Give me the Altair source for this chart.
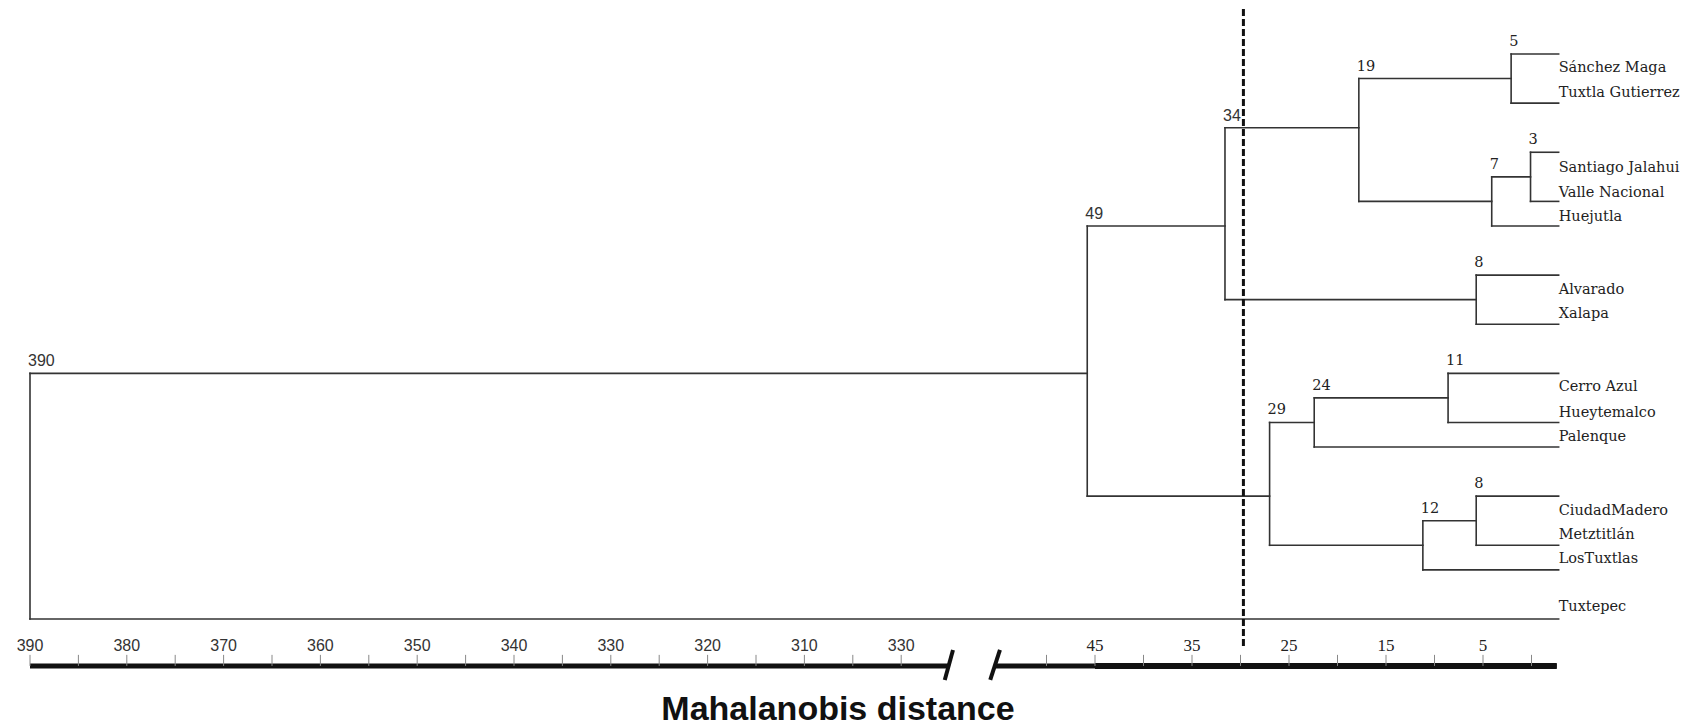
import altair as alt
import pandas as pd

# ---------------- data ----------------
# internal nodes of the dendrogram (distance = position on the drawn axis)
node_ids = ["n390", "n49", "n34", "n19", "n5", "n7", "n3", "n8a", "n29", "n24", "n11", "n12", "n8b"]
node_labels = ["390", "49", "34", "19", "5", "7", "3", "8", "29", "24", "11", "12", "8"]
node_dist = [390, 45.8, 31.6, 17.8, 2.1, 4.1, 0.1, 5.7, 27.0, 22.4, 8.6, 11.2, 5.7]
node_parent = [None, "n390", "n49", "n34", "n19", "n19", "n7", "n34", "n49", "n29", "n24", "n29", "n12"]
node_link_row = [None, 13, 7, 3, 1, 6, 5, 10, 18, 15, 14, 20, 19]

# leaves
leaf_names = ["Sánchez Maga", "Tuxtla Gutierrez", "Santiago Jalahui", "Valle Nacional", "Huejutla",
              "Alvarado", "Xalapa", "Cerro Azul", "Hueytemalco", "Palenque",
              "CiudadMadero", "Metztitlán", "LosTuxtlas", "Tuxtepec"]
leaf_parent = ["n5", "n5", "n3", "n3", "n7", "n8a", "n8a", "n11", "n11", "n24", "n8b", "n8b", "n12", "n390"]
leaf_line_row = [0, 2, 4, 6, 7, 9, 11, 13, 15, 16, 18, 20, 21, 23]
leaf_label_row = [0.57, 1.6, 4.65, 5.65, 6.63, 9.6, 10.6, 13.55, 14.6, 15.6, 18.6, 19.6, 20.55, 22.5]
leaf_end = -2.8

cut_value = 29.7

# broken axis
left_major = [390, 380, 370, 360, 350, 340, 330, 320, 310, 300]
left_major_labels = ["390", "380", "370", "360", "350", "340", "330", "320", "310", "330"]
right_major = [45, 35, 25, 15, 5]
right_major_labels = ["45", "35", "25", "15", "5"]
minor_ticks = [385, 375, 365, 355, 345, 335, 325, 315, 305, 50, 40, 30, 20, 10, 0]
axis_start = [390, 55.3]
axis_end = [295, -2.6]
axis_heavy_start = [45]
axis_heavy_end = [-2.6]
break_low = [295.5, 55.8]
break_high = [294.65, 54.8]

title_text = "Mahalanobis distance"

# ---------------- layout constants ----------------
AXIS_ROW = 24.91
TICK_TOP_ROW = 24.46
TICKLABEL_ROW = 24.1
BREAK_ROW_LOW = 25.48
BREAK_ROW_HIGH = 24.26
CUT_TOP_ROW = -1.83
CUT_BOTTOM_ROW = 24.16

xs = alt.Scale(domain=[390, 293, 57, 5], range=[30, 968.96, 978.6, 1483], nice=False, zero=False)
ys = alt.Scale(domain=[0, 23], range=[54, 619], nice=False, zero=False)
X = lambda f: alt.X(f, type="quantitative", scale=xs, axis=None)
Y = lambda f: alt.Y(f, type="quantitative", scale=ys, axis=None)

# ---------------- build tables ----------------
dist = dict(zip(node_ids, node_dist))
children_rows = {n: [] for n in node_ids}
for n, p, r in zip(node_ids, node_parent, node_link_row):
    if p is not None:
        children_rows[p].append(r)
for p, r in zip(leaf_parent, leaf_line_row):
    children_rows[p].append(r)

segs = []
for n in node_ids:
    rows = children_rows[n]
    segs.append({"x": dist[n], "x2": dist[n], "y": min(rows), "y2": max(rows)})
for n, p, r in zip(node_ids, node_parent, node_link_row):
    if p is not None:
        segs.append({"x": dist[n], "x2": dist[p], "y": r, "y2": r})
for p, r in zip(leaf_parent, leaf_line_row):
    segs.append({"x": leaf_end, "x2": dist[p], "y": r, "y2": r})
seg_df = pd.DataFrame(segs)

node_df = pd.DataFrame({
    "d": node_dist,
    "row": [min(children_rows[n]) for n in node_ids],
    "label": node_labels,
})
leaf_df = pd.DataFrame({"d": [leaf_end] * len(leaf_names), "row": leaf_label_row, "name": leaf_names})

tree = alt.Chart(seg_df).mark_rule(color="#333333", strokeWidth=1.6, strokeCap="square").encode(
    x=X("x"), x2="x2", y=Y("y"), y2="y2")

cut = alt.Chart(pd.DataFrame({"d": [cut_value], "y": [CUT_TOP_ROW], "y2": [CUT_BOTTOM_ROW]})).mark_rule(
    color="#111111", strokeWidth=3, strokeDash=[7, 3]).encode(x=X("d"), y=Y("y"), y2="y2")

axis_df = pd.DataFrame({"x": axis_start, "x2": axis_end, "y": [AXIS_ROW] * 2})
axis_line = alt.Chart(axis_df).mark_rule(color="#111111", strokeWidth=5).encode(
    x=X("x"), x2="x2", y=Y("y"), y2="y")
axis_heavy_df = pd.DataFrame({"x": axis_heavy_start, "x2": axis_heavy_end, "y": [AXIS_ROW]})
axis_heavy = alt.Chart(axis_heavy_df).mark_rule(color="#111111", strokeWidth=6).encode(
    x=X("x"), x2="x2", y=Y("y"), y2="y")

tick_df = pd.DataFrame({"d": left_major + right_major + minor_ticks})
tick_df["y"] = TICK_TOP_ROW
tick_df["y2"] = AXIS_ROW
ticks = alt.Chart(tick_df).mark_rule(color="#888888", strokeWidth=1).encode(x=X("d"), y=Y("y"), y2="y2")

ll_df = pd.DataFrame({"d": left_major, "t": left_major_labels, "y": [TICKLABEL_ROW] * len(left_major)})
left_labels = alt.Chart(ll_df).mark_text(font="Liberation Sans", fontSize=16, color="#333333",
                                         baseline="middle", align="center").encode(
    x=X("d"), y=Y("y"), text="t:N")
rl_df = pd.DataFrame({"d": right_major, "t": right_major_labels, "y": [TICKLABEL_ROW] * len(right_major)})
right_labels = alt.Chart(rl_df).mark_text(font="Liberation Serif", fontSize=17, color="#222222",
                                          baseline="middle", align="center").encode(
    x=X("d"), y=Y("y"), text="t:N")

brk_df = pd.DataFrame({"x": break_low, "x2": break_high,
                       "y": [BREAK_ROW_LOW] * 2, "y2": [BREAK_ROW_HIGH] * 2})
breaks = alt.Chart(brk_df).mark_rule(color="#111111", strokeWidth=4).encode(
    x=X("x"), x2="x2", y=Y("y"), y2="y2")

node_sans = alt.Chart(node_df).transform_filter("datum.d > 30").mark_text(
    font="Liberation Sans", fontSize=16, color="#333333", align="left", baseline="middle", dx=-2, dy=-12
).encode(x=X("d"), y=Y("row"), text="label:N")
node_serif = alt.Chart(node_df).transform_filter("datum.d <= 30").mark_text(
    font="DejaVu Serif", fontSize=14.5, color="#222222", align="left", baseline="middle", dx=-2, dy=-12
).encode(x=X("d"), y=Y("row"), text="label:N")

leaves = alt.Chart(leaf_df).mark_text(
    font="DejaVu Serif", fontSize=14.5, color="#222222", align="left", baseline="middle", dx=0
).encode(x=X("d"), y=Y("row"), text="name:N")

title = alt.Chart(pd.DataFrame({"t": [title_text]})).mark_text(
    font="Liberation Sans", fontWeight="bold", fontSize=34, color="#111111", align="center", baseline="middle"
).encode(x=alt.value(838), y=alt.value(710), text="t:N")

chart = alt.layer(tree, cut, axis_line, axis_heavy, ticks, left_labels, right_labels, breaks,
                  node_sans, node_serif, leaves, title).properties(
    width=1693, height=727, autosize=alt.AutoSizeParams(type="none"), padding=0,
    background="white"
).configure_view(stroke=None)

chart.save("out.html", embed_options={"renderer": "svg", "actions": False})
